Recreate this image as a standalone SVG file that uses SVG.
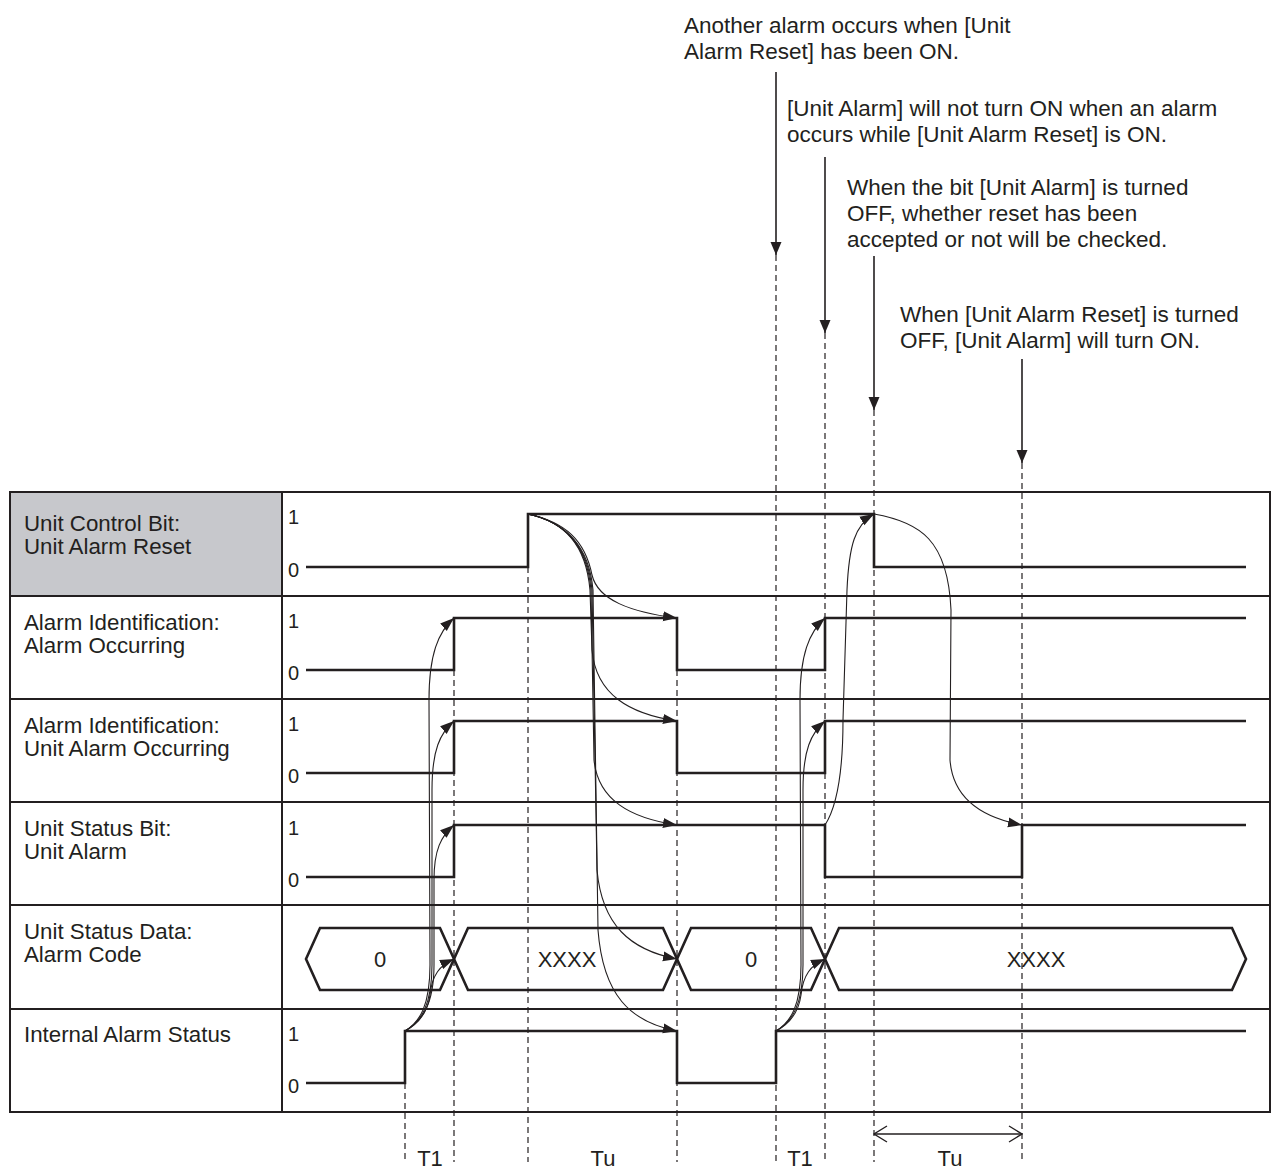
<svg xmlns="http://www.w3.org/2000/svg" width="1276" height="1173" viewBox="0 0 1276 1173">
<style>
text{font-family:"Liberation Sans",Arial,sans-serif;fill:#231f20}
.lbl{font-size:22.3px}
.ann{font-size:22.5px}
.lv{font-size:20px}
.val{font-size:22px;text-anchor:middle}
.tl{font-size:22px;text-anchor:middle}
.grid{fill:none;stroke:#231f20;stroke-width:2}
.sig{fill:none;stroke:#231f20;stroke-width:2.6;stroke-linejoin:miter}
.dash{fill:none;stroke:#231f20;stroke-width:1.2;stroke-dasharray:6 4}
.cv{fill:none;stroke:#231f20;stroke-width:1.1;marker-end:url(#ah)}
.va{fill:none;stroke:#231f20;stroke-width:1.6;marker-end:url(#dn)}
</style>
<defs>
<marker id="ah" markerUnits="userSpaceOnUse" markerWidth="15" markerHeight="11" refX="14" refY="5.5" orient="auto"><path d="M0,0.5 L14,5.5 L0,10.5 z" fill="#231f20"/></marker>
<marker id="dn" markerUnits="userSpaceOnUse" markerWidth="14" markerHeight="12" refX="13" refY="6" orient="auto"><path d="M0,0.5 L13,6 L0,11.5 z" fill="#231f20"/></marker>
</defs>
<rect width="1276" height="1173" fill="#fff"/>

<g id="table">
<rect x="10" y="492" width="272" height="104" fill="#c7c8cc"/>
<rect class="grid" x="10" y="492" width="1260" height="620"/>
<line class="grid" x1="282" y1="492" x2="282" y2="1112"/>
<line class="grid" x1="10" y1="596" x2="1270" y2="596"/>
<line class="grid" x1="10" y1="699" x2="1270" y2="699"/>
<line class="grid" x1="10" y1="802" x2="1270" y2="802"/>
<line class="grid" x1="10" y1="905" x2="1270" y2="905"/>
<line class="grid" x1="10" y1="1009" x2="1270" y2="1009"/>
</g>

<g id="dashes">
<line class="dash" x1="405" y1="1083" x2="405" y2="1162"/>
<line class="dash" x1="454" y1="670" x2="454" y2="1162"/>
<line class="dash" x1="528" y1="567" x2="528" y2="1162"/>
<line class="dash" x1="677" y1="670" x2="677" y2="1162"/>
<line class="dash" x1="776" y1="255" x2="776" y2="1162"/>
<line class="dash" x1="825" y1="333" x2="825" y2="1162"/>
<line class="dash" x1="874" y1="410" x2="874" y2="1162"/>
<line class="dash" x1="1022" y1="463" x2="1022" y2="1162"/>
</g>

<g id="row-unit-alarm-reset">
<text class="lbl" x="24" y="531">Unit Control Bit:</text>
<text class="lbl" x="24" y="554">Unit Alarm Reset</text>
<text class="lv" x="288" y="524">1</text>
<text class="lv" x="288" y="577">0</text>
<path class="sig" d="M306,567 H528 V514 H874 V567 H1246"/>
</g>

<g id="row-alarm-occurring">
<text class="lbl" x="24" y="630">Alarm Identification:</text>
<text class="lbl" x="24" y="653">Alarm Occurring</text>
<text class="lv" x="288" y="628">1</text>
<text class="lv" x="288" y="680">0</text>
<path class="sig" d="M306,670 H454 V618 H677 V670 H825 V618 H1246"/>
</g>

<g id="row-unit-alarm-occurring">
<text class="lbl" x="24" y="733">Alarm Identification:</text>
<text class="lbl" x="24" y="756">Unit Alarm Occurring</text>
<text class="lv" x="288" y="731">1</text>
<text class="lv" x="288" y="783">0</text>
<path class="sig" d="M306,773 H454 V721 H677 V773 H825 V721 H1246"/>
</g>

<g id="row-unit-alarm">
<text class="lbl" x="24" y="836">Unit Status Bit:</text>
<text class="lbl" x="24" y="859">Unit Alarm</text>
<text class="lv" x="288" y="835">1</text>
<text class="lv" x="288" y="887">0</text>
<path class="sig" d="M306,877 H454 V825 H825 V877 H1022 V825 H1246"/>
</g>

<g id="row-alarm-code">
<text class="lbl" x="24" y="939">Unit Status Data:</text>
<text class="lbl" x="24" y="962">Alarm Code</text>
<path class="sig" d="M306,959 L320,928 H440 L454,959 L440,990 H320 Z"/>
<path class="sig" d="M454,959 L468,928 H663 L677,959 L663,990 H468 Z"/>
<path class="sig" d="M677,959 L691,928 H811 L825,959 L811,990 H691 Z"/>
<path class="sig" d="M825,959 L839,928 H1232 L1246,959 L1232,990 H839 Z"/>
<text class="val" x="380" y="967">0</text>
<text class="val" x="567" y="967">XXXX</text>
<text class="val" x="751" y="967">0</text>
<text class="val" x="1036" y="967">XXXX</text>
</g>

<g id="row-internal-alarm-status">
<text class="lbl" x="24" y="1042">Internal Alarm Status</text>
<text class="lv" x="288" y="1041">1</text>
<text class="lv" x="288" y="1093">0</text>
<path class="sig" d="M306,1083 H405 V1031 H677 V1083 H776 V1031 H1246"/>
</g>

<g id="annotations">
<text class="ann" x="684" y="33">Another alarm occurs when [Unit</text>
<text class="ann" x="684" y="59">Alarm Reset] has been ON.</text>
<text class="ann" x="787" y="116">[Unit Alarm] will not turn ON when an alarm</text>
<text class="ann" x="787" y="142">occurs while [Unit Alarm Reset] is ON.</text>
<text class="ann" x="847" y="195">When the bit [Unit Alarm] is turned</text>
<text class="ann" x="847" y="221">OFF, whether reset has been</text>
<text class="ann" x="847" y="247">accepted or not will be checked.</text>
<text class="ann" x="900" y="322">When [Unit Alarm Reset] is turned</text>
<text class="ann" x="900" y="348">OFF, [Unit Alarm] will turn ON.</text>
<line class="va" x1="776" y1="72" x2="776" y2="255"/>
<line class="va" x1="825" y1="157" x2="825" y2="333"/>
<line class="va" x1="874" y1="256" x2="874" y2="410"/>
<line class="va" x1="1022" y1="359" x2="1022" y2="463"/>
</g>

<g id="timing">
<line x1="874" y1="1134" x2="1022" y2="1134" stroke="#231f20" stroke-width="1.4"/>
<path d="M887,1126 L874,1134 L887,1142 M1009,1126 L1022,1134 L1009,1142" fill="none" stroke="#231f20" stroke-width="1.4"/>
<text class="tl" x="430" y="1166">T1</text>
<text class="tl" x="603" y="1166">Tu</text>
<text class="tl" x="800" y="1166">T1</text>
<text class="tl" x="950" y="1166">Tu</text>
</g>

<g id="connectors">
<path class="cv" d="M405,1031 C420,1022 430,1005 430,965 L429,700 C429,655 438,632 454,618"/>
<path class="cv" d="M405,1031 C421,1022 432,1005 432,965 L432,790 C432,750 440,733 454,721"/>
<path class="cv" d="M405,1031 C422,1021 434,1005 434,965 L434,880 C434,850 441,836 454,825"/>
<path class="cv" d="M405,1031 C420,1023 428,1010 430,995 C432,975 440,965 454,959"/>
<path class="cv" d="M776,1031 C791,1022 801,1005 801,965 L800,700 C800,655 809,632 825,618"/>
<path class="cv" d="M776,1031 C792,1022 803,1005 803,965 L803,790 C803,750 811,733 825,721"/>
<path class="cv" d="M776,1031 C791,1023 799,1010 801,995 C803,975 811,965 825,959"/>
<path class="cv" d="M528,514 C565,522 585,540 592,575 C598,600 630,612 677,618"/>
<path class="cv" d="M528,514 C565,522 586,545 590,590 L592,650 C596,695 630,714 677,721"/>
<path class="cv" d="M528,514 C565,522 587,545 591,590 L594,760 C598,800 630,818 677,825"/>
<path class="cv" d="M528,514 C565,522 588,545 592,590 L597,870 C602,925 630,950 677,959"/>
<path class="cv" d="M528,514 C565,522 589,545 593,590 L598,930 C603,995 630,1022 677,1031"/>
<path class="cv" d="M874,514 C920,522 948,540 951,610 L950,760 C953,800 985,818 1022,825"/>
<path class="cv" d="M825,825 C838,805 843,770 843,720 L847,590 C849,545 855,525 874,514"/>
</g>
</svg>
